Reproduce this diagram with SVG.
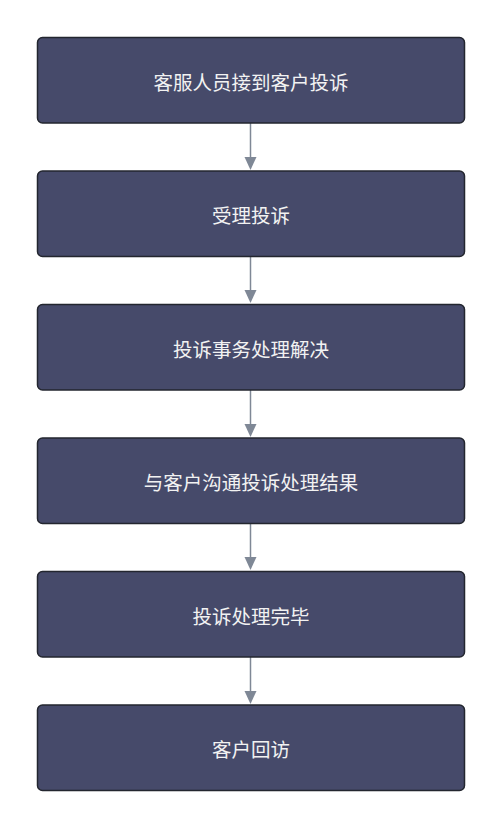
<svg xmlns="http://www.w3.org/2000/svg" width="501" height="828" viewBox="0 0 501 828">
<style>
.box{fill:#464a6a;stroke:#23262f;stroke-width:1.5}
.lbl{font-family:"Noto Sans CJK SC","Liberation Sans",sans-serif;font-size:19.5px;fill:#f2f2f2;text-anchor:middle;dominant-baseline:central}
.edge{stroke:#7f8896;stroke-width:1.5;fill:none}
.head{fill:#7f8896}
</style>
<rect width="501" height="828" fill="#ffffff"/>
<g id="edges">
<line class="edge" x1="250.5" y1="123" x2="250.5" y2="158"/>
<path class="head" d="M244.5,157 L256.5,157 L250.5,170 Z"/>
<line class="edge" x1="250.5" y1="256" x2="250.5" y2="291"/>
<path class="head" d="M244.5,290 L256.5,290 L250.5,303 Z"/>
<line class="edge" x1="250.5" y1="390" x2="250.5" y2="425"/>
<path class="head" d="M244.5,424 L256.5,424 L250.5,437 Z"/>
<line class="edge" x1="250.5" y1="523" x2="250.5" y2="558"/>
<path class="head" d="M244.5,557 L256.5,557 L250.5,570 Z"/>
<line class="edge" x1="250.5" y1="657" x2="250.5" y2="692"/>
<path class="head" d="M244.5,691 L256.5,691 L250.5,704 Z"/>
</g>
<g id="n1"><rect class="box" x="37.5" y="37.5" width="427" height="85.5" rx="5"/><text class="lbl" x="251" y="81">客服人员接到客户投诉</text></g>
<g id="n2"><rect class="box" x="37.5" y="171" width="427" height="85.5" rx="5"/><text class="lbl" x="251" y="214">受理投诉</text></g>
<g id="n3"><rect class="box" x="37.5" y="304.5" width="427" height="85.5" rx="5"/><text class="lbl" x="251" y="348">投诉事务处理解决</text></g>
<g id="n4"><rect class="box" x="37.5" y="438" width="427" height="85.5" rx="5"/><text class="lbl" x="251" y="481">与客户沟通投诉处理结果</text></g>
<g id="n5"><rect class="box" x="37.5" y="571.5" width="427" height="85.5" rx="5"/><text class="lbl" x="251" y="615">投诉处理完毕</text></g>
<g id="n6"><rect class="box" x="37.5" y="705" width="427" height="85.5" rx="5"/><text class="lbl" x="251" y="748">客户回访</text></g>
</svg>
